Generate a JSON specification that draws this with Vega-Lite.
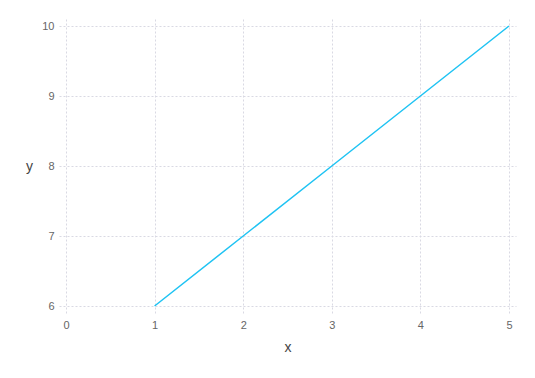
{
  "$schema": "https://vega.github.io/schema/vega-lite/v6.json",
  "autosize": "none",
  "width": 457,
  "height": 294,
  "padding": {"left": 59, "top": 19, "right": 19, "bottom": 65},
  "background": "white",
  "config": {
    "view": {"stroke": null},
    "font": "Liberation Sans",
    "axis": {
      "domain": false,
      "ticks": false,
      "gridColor": "#d9d9e3",
      "gridDash": [2, 2],
      "gridWidth": 1,
      "labelColor": "#666666",
      "labelFontSize": 11,
      "labelFont": "Liberation Sans",
      "titleFont": "Liberation Sans",
      "titleFontSize": 14,
      "titleFontWeight": "normal",
      "titleColor": "#444444"
    }
  },
  "data": {"values": [
    {"x": 1, "y": 6},
    {"x": 2, "y": 7},
    {"x": 3, "y": 8},
    {"x": 4, "y": 9},
    {"x": 5, "y": 10}
  ]},
  "mark": {"type": "line", "color": "#1fc3f3", "strokeWidth": 1.5},
  "encoding": {
    "x": {
      "field": "x", "type": "quantitative",
      "scale": {"domain": [0, 5], "nice": false, "padding": 7},
      "axis": {"values": [0, 1, 2, 3, 4, 5], "labelPadding": 6, "titleY": 34, "titleBaseline": "middle"}
    },
    "y": {
      "field": "y", "type": "quantitative",
      "scale": {"domain": [6, 10], "nice": false, "zero": false, "padding": 7},
      "axis": {"values": [6, 7, 8, 9, 10], "labelPadding": 5, "titleAngle": 0, "titleX": -30, "titleY": 147, "titleAlign": "center", "titleBaseline": "middle"}
    }
  }
}
